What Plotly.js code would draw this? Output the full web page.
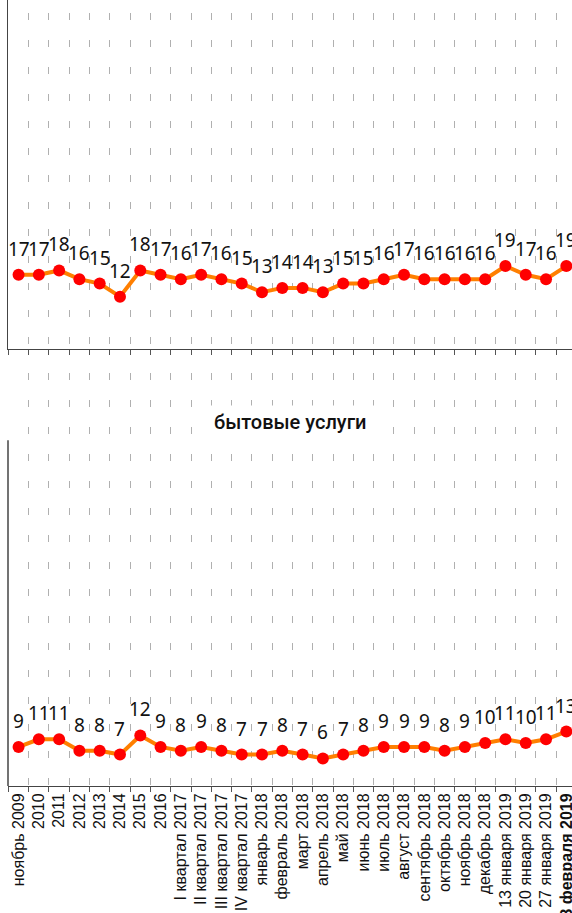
<!DOCTYPE html>
<html><head><meta charset="utf-8">
<script src="https://cdn.plot.ly/plotly-3.0.1.min.js"></script>
<style>html,body{margin:0;padding:0;overflow:hidden;background:#fff}#chart{width:572px;height:913px}</style>
</head><body><div id="chart"></div>
<script>
const categories = ['ноябрь 2009','2010','2011','2012','2013','2014','2015','2016',
  'I квартал 2017','II квартал 2017','III квартал 2017','IV квартал 2017',
  'январь 2018','февраль 2018','март 2018','апрель 2018','май 2018','июнь 2018','июль 2018',
  'август 2018','сентябрь 2018','октябрь 2018','ноябрь 2018','декабрь 2018',
  '13 января 2019','20 января 2019','27 января 2019','3 февраля 2019'];
const seriesTop = [17,17,18,16,15,12,18,17,16,17,16,15,13,14,14,13,15,15,16,17,16,16,16,16,19,17,16,19];
const seriesBottom = [9,11,11,8,8,7,12,9,8,9,8,7,7,8,7,6,7,8,9,9,9,8,9,10,11,10,11,13];
const bottomTitle = 'бытовые услуги';
const boldCategory = '3 февраля 2019';

const tickText = categories.map(c => c === boldCategory ? '<b>' + c + '</b>' : c);

const lineStyle = {color: '#FF7F00', width: 4};
const markerStyle = {color: '#FF0000', size: 12};

const traces = [
  {x: categories, y: seriesTop, xaxis: 'x', yaxis: 'y', type: 'scatter', mode: 'lines+markers',
   line: lineStyle, marker: markerStyle, hoverinfo: 'none'},
  {x: categories, y: seriesBottom, xaxis: 'x2', yaxis: 'y2', type: 'scatter', mode: 'lines+markers',
   line: lineStyle, marker: markerStyle, hoverinfo: 'none'}
];

const labelFont = {family: 'Noto Sans, Open Sans, sans-serif', size: 19, color: '#111'};
const annotations = [];
categories.forEach((c, i) => {
  annotations.push({x: i, y: seriesTop[i], xref: 'x', yref: 'y', text: String(seriesTop[i]),
    showarrow: false, yanchor: 'middle', yshift: 26, font: labelFont});
  annotations.push({x: i, y: seriesBottom[i], xref: 'x2', yref: 'y2', text: String(seriesBottom[i]),
    showarrow: false, yanchor: 'middle', yshift: 26, font: labelFont});
});
annotations.push({xref: 'paper', yref: 'paper', x: 0.5, y: 0.463, yanchor: 'middle',
  text: '&nbsp;&nbsp;&nbsp;' + bottomTitle + '&nbsp;&nbsp;&nbsp;',
  showarrow: false, bgcolor: '#ffffff', borderpad: 4,
  font: {family: 'Roboto, Noto Sans, sans-serif', size: 20, color: '#111', weight: 500}});

const gridDash = '0px,13px,7px,7px';
const xBase = {
  type: 'category', range: [-0.52, 27.28], tickson: 'boundaries',
  showgrid: true, gridcolor: '#b0b0b0', gridwidth: 1, griddash: gridDash,
  showline: true, linecolor: '#444', linewidth: 1,
  ticks: 'outside', ticklen: 5, tickcolor: '#555', tickwidth: 1,
  zeroline: false, automargin: false, fixedrange: true
};
const yBase = {
  showgrid: false, zeroline: false, linecolor: '#444', linewidth: 1.5,
  ticks: '', showticklabels: false, automargin: false, fixedrange: true
};

const layout = {
  width: 572, height: 913,
  margin: {l: 8, r: 0, t: 0, b: 127},
  paper_bgcolor: '#ffffff', plot_bgcolor: '#ffffff',
  showlegend: false,
  xaxis: Object.assign({}, xBase, {anchor: 'y', showticklabels: false}),
  xaxis2: Object.assign({}, xBase, {anchor: 'y2', showticklabels: true, tickangle: -90,
    tickvals: categories, ticktext: tickText,
    tickfont: {family: 'Liberation Sans, Arial, sans-serif', size: 16, color: '#111'}}),
  yaxis: Object.assign({}, yBase, {anchor: 'x', domain: [0.556, 1], range: [0, 80], showline: true}),
  yaxis2: Object.assign({}, yBase, {anchor: 'x2', domain: [0, 0.542], range: [-1.2, 110], showline: false}),
  shapes: [{type: 'line', xref: 'paper', yref: 'paper', x0: 0, x1: 0, y0: 0, y1: 0.44,
    line: {color: '#444', width: 1.5}}],
  annotations: annotations
};

Plotly.newPlot('chart', traces, layout, {staticPlot: true, displayModeBar: false});
</script>
</body></html>
